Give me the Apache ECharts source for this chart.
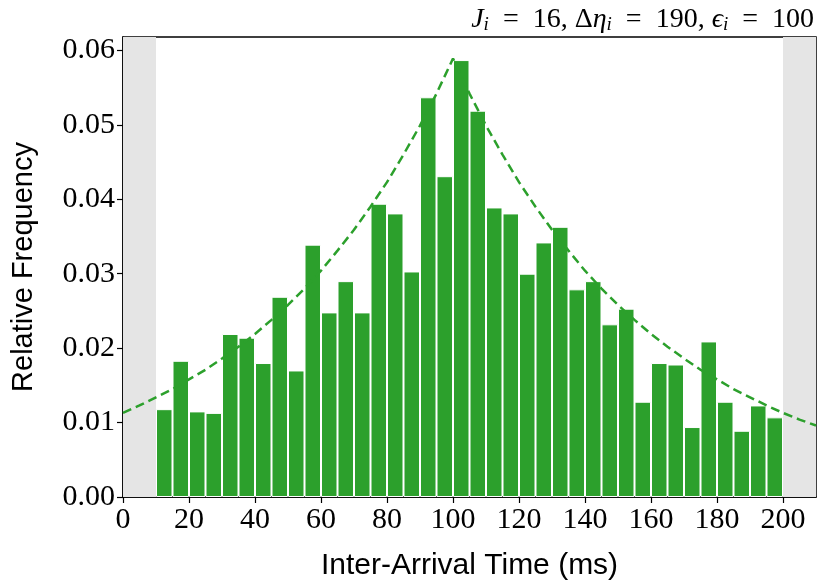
<!DOCTYPE html>
<html>
<head>
<meta charset="utf-8">
<script src="https://cdn.jsdelivr.net/npm/echarts@6/dist/echarts.min.js"></script>
<style>html,body{margin:0;padding:0;background:#fff}#c{width:819px;height:588px}</style>
</head>
<body>
<div id="c"></div>
<script>
// Histogram bins (left edge, width 5 ms)
const binStarts = [10,15,20,25,30,35,40,45,50,55,60,65,70,75,80,85,90,95,100,105,110,115,120,125,130,135,140,145,150,155,160,165,170,175,180,185,190,195];
const binWidth = 5;
const freqs = [0.0118,0.0183,0.0115,0.0113,0.0219,0.0214,0.0180,0.0269,0.0170,0.0339,0.0248,0.0290,0.0248,0.0394,0.0381,0.0303,0.0537,0.0431,0.0587,0.0519,0.0389,0.0381,0.0300,0.0342,0.0363,0.0279,0.0290,0.0232,0.0253,0.0128,0.0180,0.0178,0.0094,0.0209,0.0128,0.0089,0.0123,0.0107];
// Dashed fitted curve
const curveX = [0,5,10,15,20,25,30,35,40,45,50,55,60,65,70,75,80,85,90,95,100,105,110,115,120,125,130,135,140,145,150,155,160,165,170,175,180,185,190,195,200,205,210];
const curveY = [0.0113,0.0123,0.0134,0.0145,0.0158,0.0171,0.0186,0.0202,0.0219,0.0238,0.0258,0.0280,0.0304,0.0331,0.0359,0.0390,0.0423,0.0460,0.0499,0.0542,0.0589,0.0542,0.0499,0.0460,0.0423,0.0390,0.0359,0.0331,0.0304,0.0280,0.0258,0.0238,0.0219,0.0202,0.0186,0.0171,0.0158,0.0145,0.0134,0.0123,0.0113,0.0104,0.0096];
const xTicks = [0,20,40,60,80,100,120,140,160,180,200];
const yTicks = [0,0.01,0.02,0.03,0.04,0.05,0.06];
const shadedRanges = [[0,10],[200,210]];

const chart = echarts.init(document.getElementById('c'), null, {renderer:'canvas'});
const GREEN = '#2ca02c';
const serif = '"Liberation Serif","DejaVu Serif",serif';
const sans = '"Liberation Sans","DejaVu Sans",sans-serif';
const xMin = 0, xMax = 210;
const gridLeft = 123, gridRight = 3;
const plotW = 819 - gridLeft - gridRight;
const barPx = plotW / (xMax - xMin) * binWidth;

chart.setOption({
  animation: false,
  title: {
    right: 0, top: 0,
    text: '{it|J}{sub|i}{n|\u2002=\u200216, Δ}{it|η}{sub|i}{n|\u2002=\u2002190, }{it|ϵ}{sub|i}{n|\u2002=\u2002100}',
    textStyle: {
      fontWeight: 'normal',
      rich: {
        it: {fontFamily: serif, fontStyle: 'italic', fontWeight: 'normal', fontSize: 28, color:'#000'},
        n: {fontFamily: serif, fontWeight: 'normal', fontSize: 28, color:'#000'},
        sub: {fontFamily: serif, fontStyle: 'italic', fontWeight: 'normal', fontSize: 19, color:'#000', verticalAlign: 'bottom', padding:[10,0,0,0]}
      }
    }
  },
  grid: {left: gridLeft, right: gridRight, top: 37, bottom: 91, outerBoundsMode: 'none', containLabel: false,
         show: true, borderColor: '#000', borderWidth: 1.5, backgroundColor: 'transparent'},
  xAxis: {
    type: 'value', min: xMin, max: xMax,
    name: 'Inter-Arrival Time (ms)', nameLocation: 'middle', nameGap: 54,
    nameTextStyle: {fontFamily: sans, fontSize: 30, color: '#000'},
    axisLine: {show: true, onZero: false, lineStyle: {color: '#000', width: 1.5}},
    axisTick: {show: true, length: 6, lineStyle: {color:'#000', width: 1.2}, customValues: xTicks},
    axisLabel: {fontFamily: serif, fontSize: 30, color: '#000', margin: 8, customValues: xTicks},
    splitLine: {show: false}
  },
  yAxis: {
    type: 'value', min: 0, max: 0.0618,
    name: 'Relative Frequency', nameLocation: 'middle', nameGap: 85, nameRotate: 90,
    nameTextStyle: {fontFamily: sans, fontSize: 29, color: '#000'},
    axisLine: {show: true, lineStyle: {color: '#000', width: 1.5}},
    axisTick: {show: true, length: 6, lineStyle: {color:'#000', width: 1.2}, customValues: yTicks},
    axisLabel: {fontFamily: serif, fontSize: 30, color: '#000', margin: 8, customValues: yTicks, formatter: v => v.toFixed(2)},
    splitLine: {show: false}
  },
  series: [
    {
      type: 'bar',
      data: binStarts.map((s, i) => [s + binWidth / 2, freqs[i]]),
      barWidth: barPx,
      itemStyle: {color: GREEN, borderColor: '#fff', borderWidth: 1},
      markArea: {
        silent: true,
        itemStyle: {color: '#e5e5e5'},
        data: shadedRanges.map(r => [{xAxis: r[0]}, {xAxis: r[1]}])
      },
      z: 2
    },
    {
      type: 'line',
      data: curveX.map((x, i) => [x, curveY[i]]),
      showSymbol: false,
      lineStyle: {color: GREEN, width: 2.5, type: [9, 5]},
      z: 3
    }
  ]
});
</script>
</body>
</html>
